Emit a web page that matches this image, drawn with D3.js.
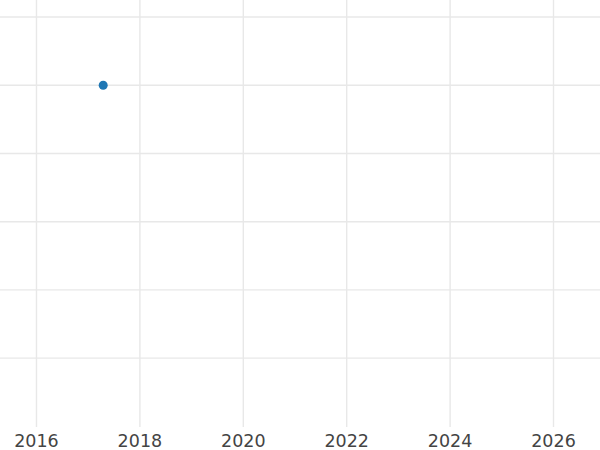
<!DOCTYPE html>
<html><head><meta charset="utf-8">
<script src="https://cdn.jsdelivr.net/npm/d3@7"></script>
<style>body{margin:0;background:#fff}svg{display:block}</style>
</head><body>
<script>
const xTicks = [2016, 2018, 2020, 2022, 2024, 2026];
const yTicks = [0, 1, 2, 3, 4, 5];
const pointsX = [2017.3];
const pointsY = [4];

const W = 600, H = 450, plotBottom = 427;
const svg = d3.select("body").append("svg").attr("width", W).attr("height", H);
const x = d3.scaleLinear().domain([2015.304, 2026.909]).range([0, W]);
const y = d3.scaleLinear().domain([-1.01, 5.25]).range([plotBottom, 0]);

const grid = svg.append("g");
grid.selectAll("line.h").data(yTicks).join("line")
  .attr("x1", 0).attr("x2", W)
  .attr("y1", d => y(d)).attr("y2", d => y(d))
  .attr("stroke", "#e8e8e8").attr("stroke-width", 1.4);

const xAxis = d3.axisBottom(x).tickValues(xTicks).tickFormat(d3.format("d"))
  .tickSize(-plotBottom).tickPadding(0);
const gx = svg.append("g").attr("transform", `translate(0,${plotBottom})`).call(xAxis);
gx.select(".domain").remove();
gx.selectAll(".tick line").attr("stroke", "#e8e8e8").attr("stroke-width", 1.4);
gx.selectAll(".tick text").attr("fill", "#444").attr("font-family", "DejaVu Sans")
  .attr("font-size", 17.5).attr("y", 0).attr("dy", "20");

svg.append("g").selectAll("circle").data(pointsX.map((d, i) => [d, pointsY[i]])).join("circle")
  .attr("cx", d => x(d[0])).attr("cy", d => y(d[1])).attr("r", 4.5)
  .attr("fill", "#1f77b4");
</script>
</body></html>
